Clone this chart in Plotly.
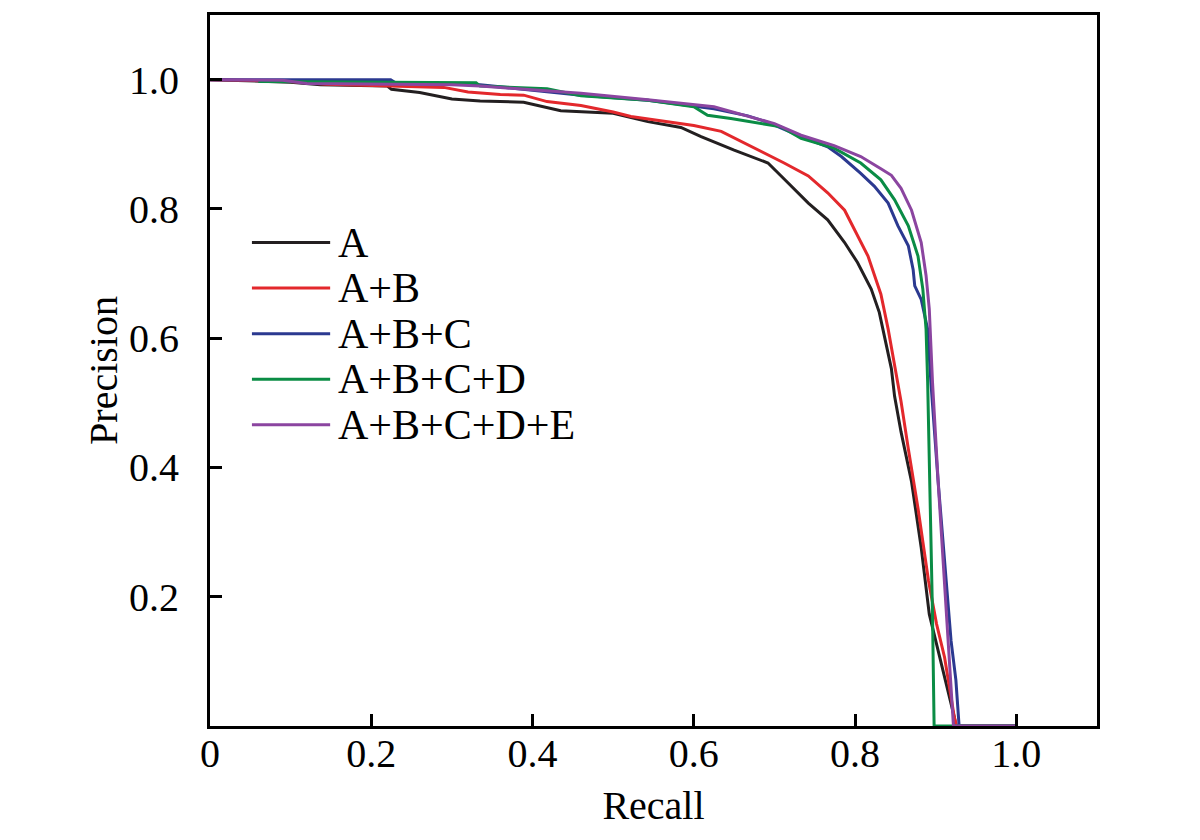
import plotly.graph_objects as go

# precision-recall curves
series_names = ["A", "A+B", "A+B+C", "A+B+C+D", "A+B+C+D+E"]
series_colors = ["#231f20", "#e3282c", "#2b3990", "#0a8c45", "#8b45a0"]

recall_a = [0, 0.10, 0.137, 0.22, 0.225, 0.26, 0.30, 0.335, 0.389, 0.435, 0.50, 0.543, 0.584,
            0.609, 0.650, 0.692, 0.717, 0.742, 0.766, 0.787, 0.803, 0.820, 0.830, 0.836, 0.845,
            0.849, 0.857, 0.870, 0.882, 0.892, 0.907, 0.923, 0.925, 1.0]
precision_a = [1.0, 0.996, 0.992, 0.990, 0.985, 0.980, 0.970, 0.967, 0.965, 0.952, 0.948, 0.935, 0.926,
               0.912, 0.891, 0.871, 0.840, 0.809, 0.783, 0.748, 0.717, 0.676, 0.640, 0.605, 0.553,
               0.510, 0.455, 0.378, 0.276, 0.173, 0.097, 0.014, 0, 0]

recall_b = [0, 0.09, 0.145, 0.29, 0.32, 0.36, 0.389, 0.418, 0.46, 0.50, 0.522, 0.567, 0.60,
            0.634, 0.671, 0.712, 0.742, 0.766, 0.787, 0.803, 0.816, 0.832, 0.841, 0.849, 0.857,
            0.866, 0.878, 0.891, 0.901, 0.911, 0.923, 0.926, 1.0]
precision_b = [1.0, 0.998, 0.993, 0.988, 0.981, 0.977, 0.976, 0.966, 0.960, 0.950, 0.943, 0.935, 0.929,
               0.920, 0.897, 0.871, 0.851, 0.825, 0.798, 0.760, 0.727, 0.668, 0.614, 0.558, 0.502,
               0.429, 0.337, 0.225, 0.158, 0.106, 0.014, 0, 0]

recall_c = [0, 0.224, 0.23, 0.335, 0.46, 0.543, 0.625, 0.667, 0.692, 0.733, 0.766, 0.783, 0.807,
            0.824, 0.841, 0.853, 0.866, 0.872, 0.874, 0.882, 0.890, 0.894, 0.903, 0.913, 0.919,
            0.925, 0.929, 1.0]
precision_c = [1.0, 1.0, 0.995, 0.992, 0.976, 0.968, 0.955, 0.944, 0.934, 0.912, 0.896, 0.881, 0.855,
               0.835, 0.809, 0.774, 0.743, 0.706, 0.681, 0.660, 0.614, 0.532, 0.378, 0.225, 0.132,
               0.071, 0.0, 0.0]

recall_d = [0.06, 0.33, 0.335, 0.418, 0.46, 0.543, 0.60, 0.617, 0.646, 0.708, 0.733, 0.774, 0.807,
            0.832, 0.849, 0.866, 0.878, 0.884, 0.888, 0.890, 0.896, 0.898, 1.0]
precision_d = [0.997, 0.995, 0.990, 0.986, 0.975, 0.968, 0.958, 0.945, 0.940, 0.927, 0.909, 0.894, 0.871,
               0.845, 0.814, 0.774, 0.727, 0.676, 0.614, 0.532, 0.173, 0.0, 0.0]

recall_e = [0, 0.09, 0.12, 0.30, 0.335, 0.46, 0.543, 0.625, 0.70, 0.733, 0.774, 0.807, 0.832,
            0.845, 0.857, 0.870, 0.882, 0.888, 0.892, 0.896, 0.903, 0.911, 0.917, 0.922, 1.0]
precision_e = [1.0, 0.999, 0.994, 0.992, 0.990, 0.979, 0.969, 0.958, 0.932, 0.914, 0.898, 0.881, 0.862,
               0.852, 0.832, 0.798, 0.748, 0.697, 0.645, 0.532, 0.378, 0.225, 0.097, 0.0, 0.0]

x_ticks = [0, 0.2, 0.4, 0.6, 0.8, 1.0]
x_tick_text = ["0", "0.2", "0.4", "0.6", "0.8", "1.0"]
y_ticks = [0.2, 0.4, 0.6, 0.8, 1.0]
y_tick_text = ["0.2", "0.4", "0.6", "0.8", "1.0"]

recalls = [recall_a, recall_b, recall_c, recall_d, recall_e]
precisions = [precision_a, precision_b, precision_c, precision_d, precision_e]

FONT = "Liberation Serif, Times New Roman, serif"
FS = 40

fig = go.Figure()
for name, color, r, p in zip(series_names, series_colors, recalls, precisions):
    fig.add_trace(go.Scatter(x=r, y=p, mode="lines", name=name,
                             line=dict(color=color, width=3)))

# hand-made legend: long line samples like the original
for i, (name, color) in enumerate(zip(series_names, series_colors)):
    y_leg = 0.748 - i * 0.0705
    fig.add_shape(type="line", xref="x", yref="y", x0=0.052, x1=0.149, y0=y_leg, y1=y_leg,
                  line=dict(color=color, width=3))
    fig.add_annotation(x=0.156, y=y_leg, xref="x", yref="y", text=name, showarrow=False,
                       xanchor="left", yanchor="middle", font=dict(size=42, color="black"))

axis_common = dict(showline=True, linecolor="black", linewidth=3, mirror=True,
                   ticks="inside", ticklen=12, tickwidth=2.5, tickcolor="black",
                   showgrid=False, zeroline=False,
                   tickfont=dict(size=FS, color="black", family=FONT))

fig.update_xaxes(range=[0, 1.1], tickvals=x_ticks, ticktext=x_tick_text,
                 ticklabelstandoff=-10,
                 title=dict(text="Recall", font=dict(size=FS, color="black"), standoff=16),
                 **axis_common)
fig.update_yaxes(range=[0, 1.1], tickvals=y_ticks, ticktext=y_tick_text,
                 ticklabelstandoff=20,
                 title=dict(text="Precision", font=dict(size=FS, color="black"), standoff=0),
                 **axis_common)

# page body adds an 8px margin, so size and offsets account for it
fig.update_layout(
    width=1184, height=824,
    margin=dict(l=202, r=95, t=4, b=106),
    plot_bgcolor="white", paper_bgcolor="white",
    font=dict(family=FONT, size=FS, color="black"),
    showlegend=False,
)

fig.write_html("out.html")
